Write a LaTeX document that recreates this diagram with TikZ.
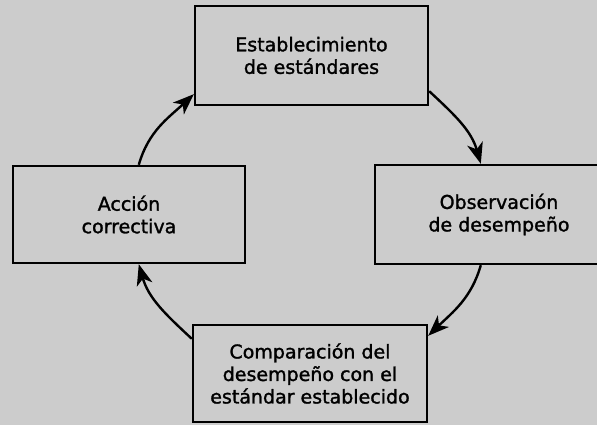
\documentclass[tikz,border=0pt]{standalone}
\usepackage{fontspec}
\setmainfont{DejaVu Sans}
\newfontfamily\diagfont{DejaVu Sans}[FakeBold=1.5]
\usetikzlibrary{arrows.meta}
\definecolor{halftone}{rgb}{0.80,0.80,0.80}
\tikzset{
  box/.style={draw=black, line width=2.4pt, fill=halftone, inner sep=0pt,
    align=center, font=\diagfont\fontsize{19}{22.5}\selectfont},
  flow/.style={line width=2.4pt, -{Stealth[length=21pt,width=16pt,inset=6pt]}}
}
\begin{document}
\begin{tikzpicture}[x=1pt,y=1pt]
\useasboundingbox (0,0) rectangle (597,425);
\clip (0,0) rectangle (597,425);
\fill[halftone] (0,0) rectangle (597,425);
\node[box, minimum width=233pt, minimum height=99pt] (top) at (311.5,369.5) {Establecimiento\\de estándares};
\node[box, minimum width=248pt, minimum height=99pt] (right) at (499,210.5) {Observación\\de desempeño};
\node[box, minimum width=234pt, minimum height=97pt] (bottom) at (310,51.5) {Comparación del\\desempeño con el\\estándar establecido};
\node[box, minimum width=232pt, minimum height=97pt] (left) at (129,210.5) {Acción\\correctiva};
\draw[flow] ([yshift=15pt]top.south east) to[out=-43,in=106] ([xshift=107pt]right.north west);
\draw[flow] ([xshift=107pt]right.south west) to[out=-106,in=44] ([yshift=-12pt]bottom.north east);
\draw[flow] ([yshift=-15pt]bottom.north west) to[out=137,in=-74] ([xshift=127pt]left.south west);
\draw[flow] ([xshift=127pt]left.north west) to[out=74,in=223] ([yshift=12pt]top.south west);
\end{tikzpicture}
\end{document}
